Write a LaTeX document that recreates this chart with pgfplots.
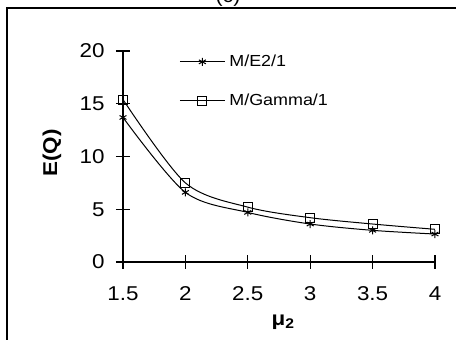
\documentclass[border=0pt]{standalone}
\usepackage{fontspec}
\setmainfont{Liberation Sans}[FakeStretch=1.12]
\usepackage{pgfplots}
\pgfplotsset{compat=1.18}
\begin{document}
\begin{tikzpicture}
\useasboundingbox (-123pt,-78pt) rectangle (333pt,262pt);
\clip (-123pt,-78pt) rectangle (333pt,262pt);
\begin{axis}[
 scale only axis, width=312pt, height=211pt,
 xmin=1.5, xmax=4, ymin=0, ymax=20,
 axis lines=left, axis line style={-, line width=1.6pt},
 xtick={1.5,2,2.5,3,3.5,4}, ytick={0,5,10,15,20},
 tick align=center, major tick length=14pt, tick style={line width=1.2pt, black},
 /pgf/number format/assume math mode=true,
 ticklabel style={font=\fontsize{20}{22}\selectfont},
 xticklabel style={yshift=-14pt}, yticklabel style={xshift=-8pt},
 xlabel={\textbf{μ\textsubscript{2}}}, ylabel={\textbf{E(Q)}},
 label style={font=\fontsize{20}{22}\selectfont},
 xlabel style={at={(rel axis cs:0.513,0)}, anchor=center, yshift=-60pt},
 ylabel style={at={(rel axis cs:0,0.517)}, anchor=center, yshift=71pt},
 clip=false,
 legend image code/.code={\draw[mark repeat=2,mark phase=2,#1] plot coordinates {(0pt,0pt)(22.5pt,0pt)(45pt,0pt)};},
 legend style={at={(rel axis cs:0.18,0.99)}, anchor=north west, draw=none, fill=none,
   font=\fontsize{16}{18}\selectfont, row sep=22pt, inner sep=0pt,
   nodes={inner xsep=4pt}},
 legend cell align=left,
]
\addplot[black, line width=1pt, smooth, mark=asterisk, mark size=4pt, mark options={line width=1pt}]
 coordinates {(1.5,13.7)(2,6.6)(2.5,4.7)(3,3.6)(3.5,3.0)(4,2.65)};
\addlegendentry{M/E2/1}
\addplot[black, line width=1pt, smooth, mark=square, mark size=4.5pt, mark options={fill=white, line width=1pt}]
 coordinates {(1.5,15.4)(2,7.5)(2.5,5.2)(3,4.2)(3.5,3.6)(4,3.1)};
\addlegendentry{M/Gamma/1}
\end{axis}
\draw[line width=2pt] (-116pt,-90pt) -- (-116pt,254pt) -- (345pt,254pt);
\node[anchor=base, font=\fontsize{19}{19}\selectfont, inner sep=0pt] at (105pt,259pt) {(c)};
\end{tikzpicture}
\end{document}
